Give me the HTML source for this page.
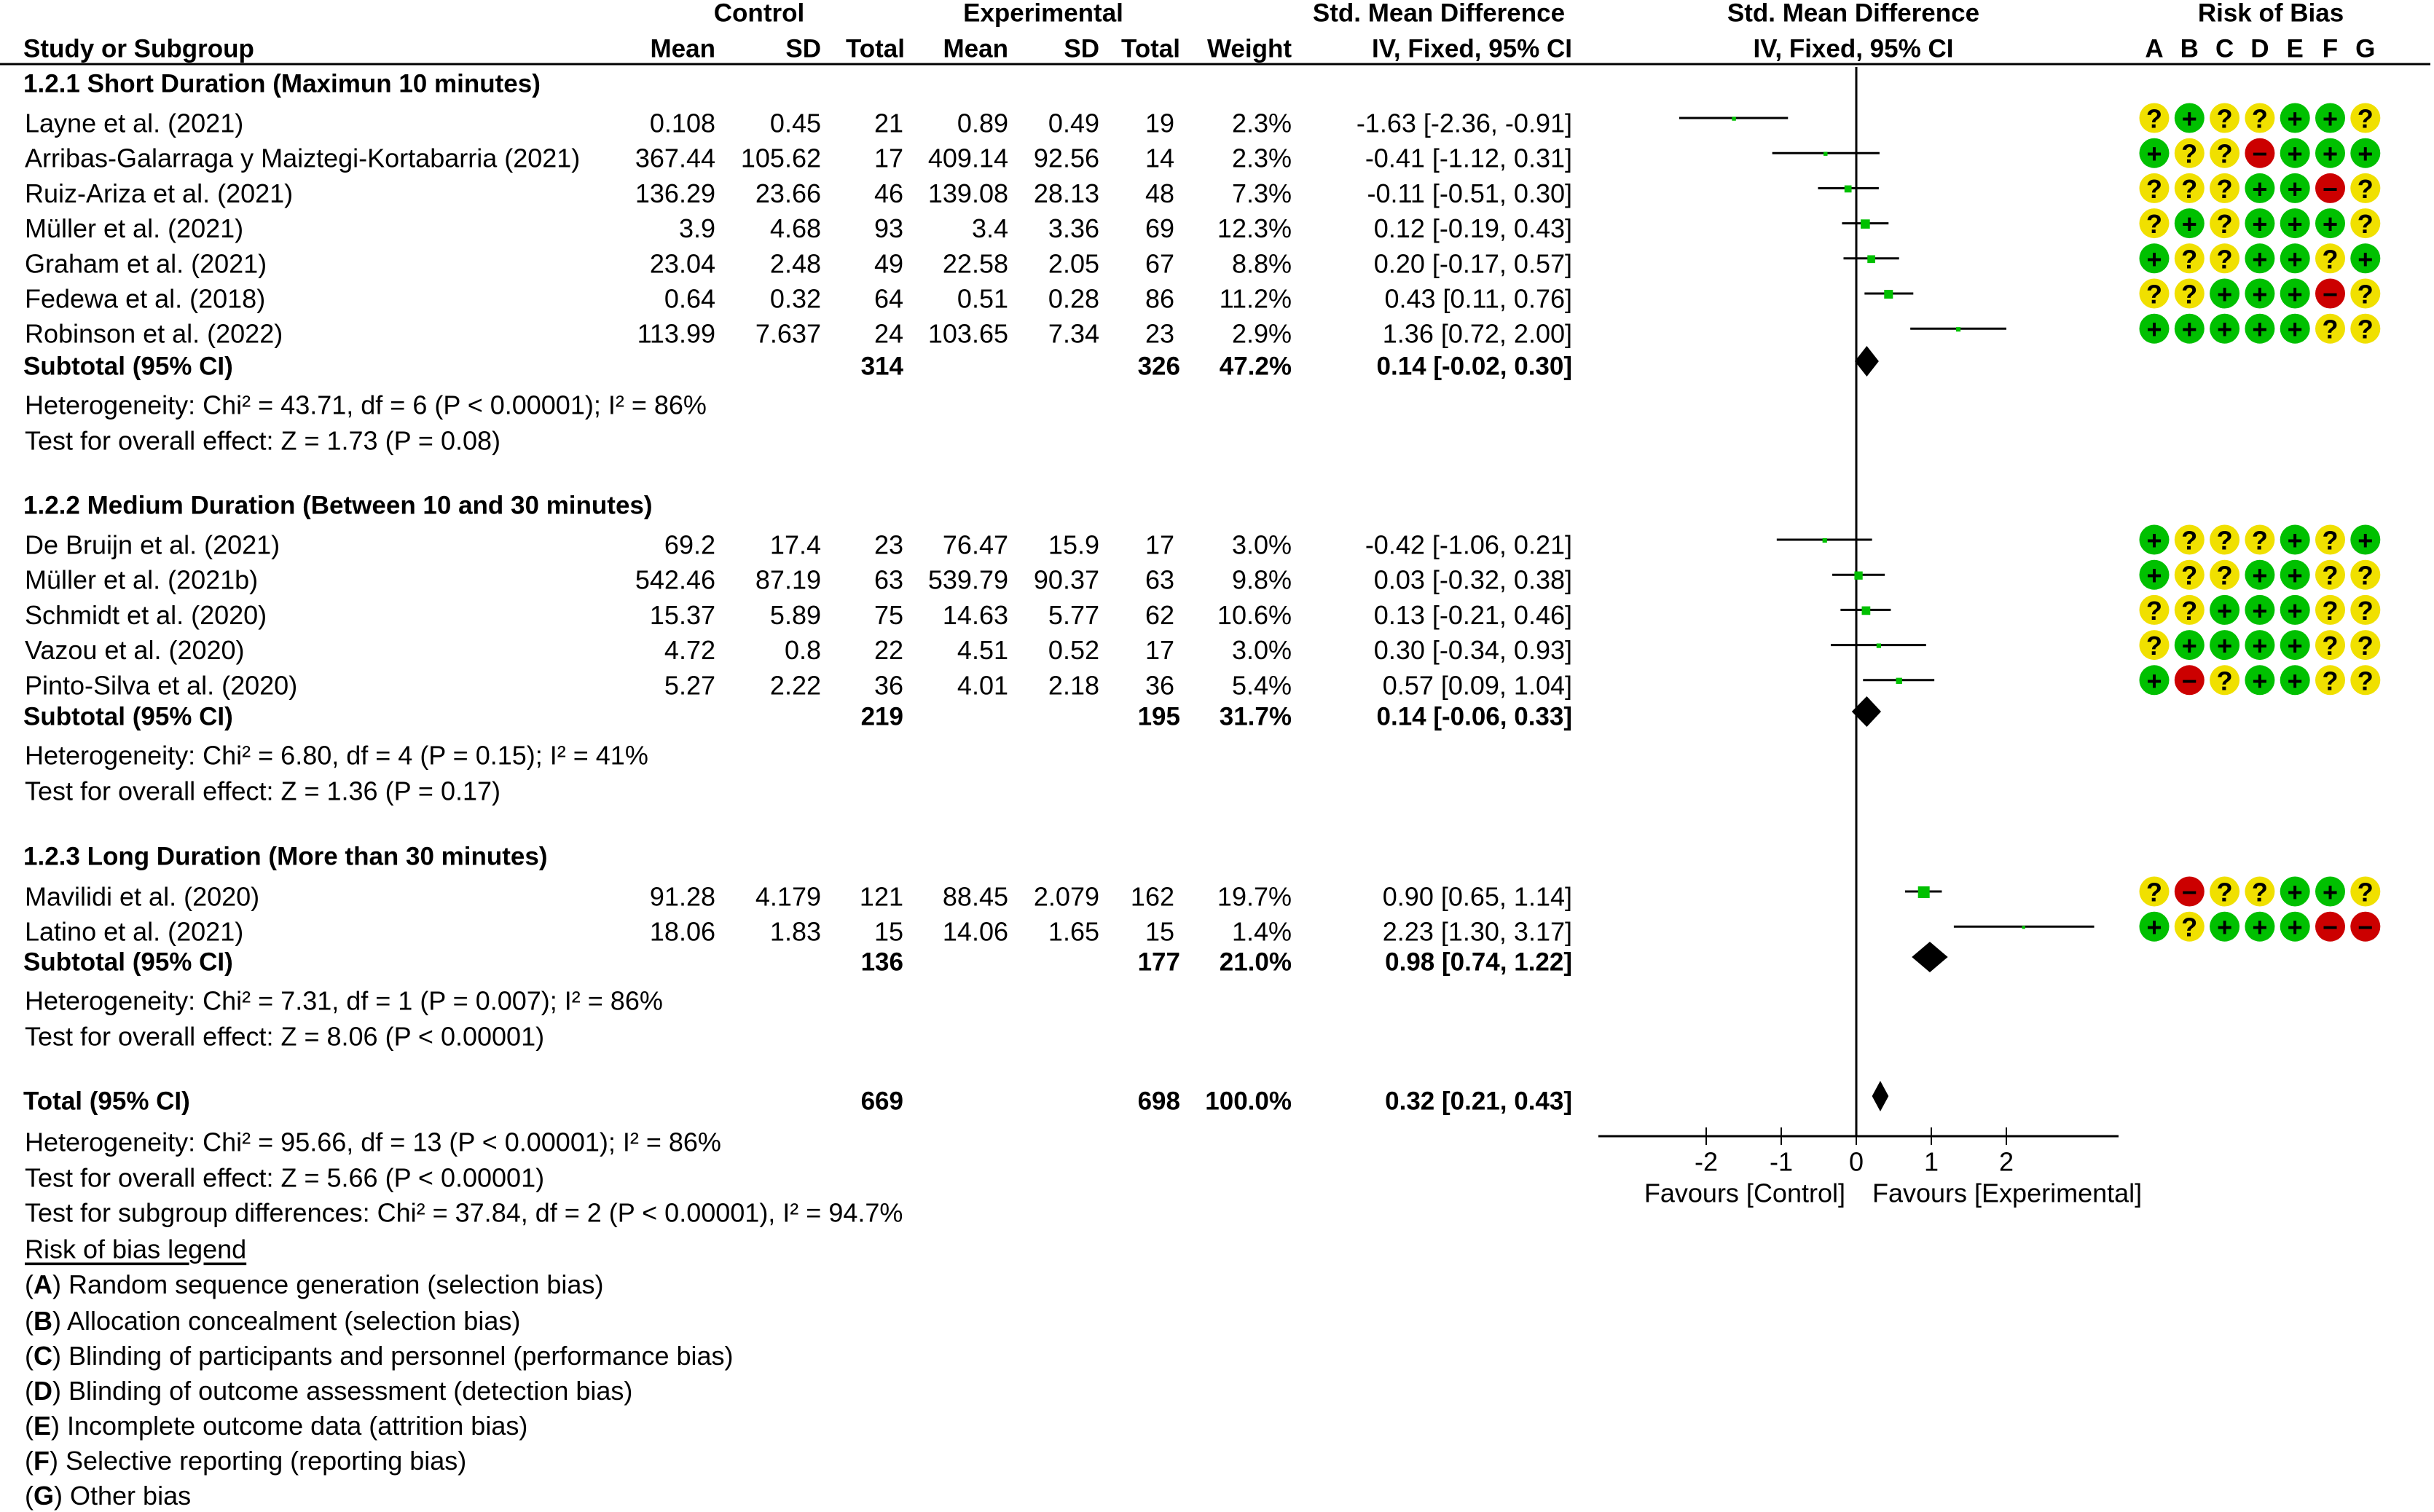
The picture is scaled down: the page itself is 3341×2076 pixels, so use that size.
<!DOCTYPE html>
<html><head><meta charset="utf-8">
<style>
html,body{margin:0;padding:0;background:#fff;}
svg{display:block;font-family:"Liberation Sans",Arial,sans-serif;}
text{font-size:36px;fill:#000;}
.b{font-weight:bold;font-size:35px;}
</style></head>
<body>
<svg id="chart" width="3341" height="2076" viewBox="0 0 3341 2076" xmlns="http://www.w3.org/2000/svg"></svg>
<script>
const studyNames = ["Layne et al. (2021)","Arribas-Galarraga y Maiztegi-Kortabarria (2021)","Ruiz-Ariza et al. (2021)","Müller et al. (2021)","Graham et al. (2021)","Fedewa et al. (2018)","Robinson et al. (2022)","De Bruijn et al. (2021)","Müller et al. (2021b)","Schmidt et al. (2020)","Vazou et al. (2020)","Pinto-Silva et al. (2020)","Mavilidi et al. (2020)","Latino et al. (2021)"];
const studyGroup = [0,0,0,0,0,0,0,1,1,1,1,1,2,2];
const ctrlMean = ["0.108","367.44","136.29","3.9","23.04","0.64","113.99","69.2","542.46","15.37","4.72","5.27","91.28","18.06"];
const ctrlSD = ["0.45","105.62","23.66","4.68","2.48","0.32","7.637","17.4","87.19","5.89","0.8","2.22","4.179","1.83"];
const ctrlN = [21,17,46,93,49,64,24,23,63,75,22,36,121,15];
const expMean = ["0.89","409.14","139.08","3.4","22.58","0.51","103.65","76.47","539.79","14.63","4.51","4.01","88.45","14.06"];
const expSD = ["0.49","92.56","28.13","3.36","2.05","0.28","7.34","15.9","90.37","5.77","0.52","2.18","2.079","1.65"];
const expN = [19,14,48,69,67,86,23,17,63,62,17,36,162,15];
const weights = [2.3,2.3,7.3,12.3,8.8,11.2,2.9,3.0,9.8,10.6,3.0,5.4,19.7,1.4];
const smd = [-1.63,-0.41,-0.11,0.12,0.20,0.43,1.36,-0.42,0.03,0.13,0.30,0.57,0.90,2.23];
const ciLo = [-2.36,-1.12,-0.51,-0.19,-0.17,0.11,0.72,-1.06,-0.32,-0.21,-0.34,0.09,0.65,1.30];
const ciHi = [-0.91,0.31,0.30,0.43,0.57,0.76,2.00,0.21,0.38,0.46,0.93,1.04,1.14,3.17];
const rob = ["?+??++?","+??-+++","???++-?","?+?+++?","+??++?+","??+++-?","+++++??","+???+?+","+??++??","??+++??","?++++??","+-?++??","?-??++?","+?+++--"];
const groupTitles = ["1.2.1 Short Duration (Maximun 10 minutes)","1.2.2 Medium Duration (Between 10 and 30 minutes)","1.2.3 Long Duration (More than 30 minutes)"];
const subCtrlN = [314,219,136];
const subExpN = [326,195,177];
const subWeight = ["47.2%","31.7%","21.0%"];
const subSmd = [0.14,0.14,0.98];
const subLo = [-0.02,-0.06,0.74];
const subHi = [0.30,0.33,1.22];
const subHet = ["Heterogeneity: Chi² = 43.71, df = 6 (P < 0.00001); I² = 86%","Heterogeneity: Chi² = 6.80, df = 4 (P = 0.15); I² = 41%","Heterogeneity: Chi² = 7.31, df = 1 (P = 0.007); I² = 86%"];
const subTest = ["Test for overall effect: Z = 1.73 (P = 0.08)","Test for overall effect: Z = 1.36 (P = 0.17)","Test for overall effect: Z = 8.06 (P < 0.00001)"];
const totalSmd = 0.32, totalLo = 0.21, totalHi = 0.43;
const totalCtrlN = 669, totalExpN = 698;
const axisTicks = [-2,-1,0,1,2];
const legendLetters = ["A","B","C","D","E","F","G"];
const legendTexts = [" Random sequence generation (selection bias)"," Allocation concealment (selection bias)"," Blinding of participants and personnel (performance bias)"," Blinding of outcome assessment (detection bias)"," Incomplete outcome data (attrition bias)"," Selective reporting (reporting bias)"," Other bias"];

const svg = document.getElementById('chart');
const NS = "http://www.w3.org/2000/svg";
const X0 = 2548, UNIT = 103;
const TOFF = 7;
function xs(v){ return X0 + v*UNIT; }
function mk(tag, attrs, parent){ const e=document.createElementNS(NS,tag); for(const k in attrs) e.setAttribute(k,attrs[k]); (parent||svg).appendChild(e); return e; }
function txt(x,y,s,anchor,bold,name){
  const t = mk('text',{x:x,y:y+TOFF,'dominant-baseline':'central','text-anchor':anchor||'start'});
  if(bold) t.setAttribute('class','b');
  t.textContent = s;
  
  
  return t;
}
function fmt(v){ return v.toFixed(2); }

// headers
txt(1042,11,"Control","middle",true,"control-header");
txt(1432,11,"Experimental","middle",true,"experimental-header");
txt(1975,11,"Std. Mean Difference","middle",true,"smd-header");
txt(2544,11,"Std. Mean Difference","middle",true,"plot-header");
txt(3117,11,"Risk of Bias","middle",true,"risk-of-bias-header");
txt(32,60,"Study or Subgroup","start",true,"study-column-header");
txt(982,60,"Mean","end",true,"control-mean-header");
txt(1127,60,"SD","end",true,"control-sd-header");
txt(1242,60,"Total","end",true,"control-total-header");
txt(1384,60,"Mean","end",true,"exp-mean-header");
txt(1509,60,"SD","end",true,"exp-sd-header");
txt(1620,60,"Total","end",true,"exp-total-header");
txt(1773,60,"Weight","end",true,"weight-header");
txt(2158,60,"IV, Fixed, 95% CI","end",true,"ci-header");
txt(2544,60,"IV, Fixed, 95% CI","middle",true,"plot-subheader");
const robX0 = 2957, robStep = 48.3;
legendLetters.forEach((L,i)=>{ txt(robX0+i*robStep,60,L,"middle",true,"rob-column-"+L); });
const hl = mk('line',{x1:0,y1:88,x2:3336,y2:88,stroke:'#000','stroke-width':3});



const zl = mk('line',{x1:X0,y1:92,x2:X0,y2:1560,stroke:'#000','stroke-width':3});



const groupStart = [162,741,1224];
const sectionY = [108,687,1169];
const subY = [496,977,1314];
const STEP = 48.2;
const counts=[0,0,0];
const colors = {"?":"#f0e000","+":"#00c000","-":"#cc0000"};

groupTitles.forEach((g,i)=>{ txt(32,sectionY[i],g,"start",true,"section-title-"+(i+1)); });

studyNames.forEach((n,i)=>{
  const g = studyGroup[i];
  const y = groupStart[g] + STEP*counts[g]; counts[g]++;
  txt(34,y,n,"start",false,"study-name");
  txt(982,y,ctrlMean[i],"end",false,"control-mean");
  txt(1127,y,ctrlSD[i],"end",false,"control-sd");
  txt(1240,y,String(ctrlN[i]),"end",false,"control-total");
  txt(1384,y,expMean[i],"end",false,"exp-mean");
  txt(1509,y,expSD[i],"end",false,"exp-sd");
  txt(1612,y,String(expN[i]),"end",false,"exp-total");
  txt(1773,y,weights[i].toFixed(1)+"%","end",false,"weight");
  txt(2158,y,fmt(smd[i])+" ["+fmt(ciLo[i])+", "+fmt(ciHi[i])+"]","end",false,"smd-ci");
  const ci = mk('line',{x1:xs(ciLo[i]),y1:y,x2:xs(ciHi[i]),y2:y,stroke:'#000','stroke-width':3});
  
  
  const s = 3.6*Math.sqrt(weights[i]);
  const sq = mk('rect',{x:xs(smd[i])-s/2,y:y-s/2+1,width:s,height:s,fill:'#00c000'});
  
  
  rob[i].split('').forEach((c,j)=>{
    const cx = robX0 + j*robStep;
    const circ = mk('circle',{cx:cx,cy:y,r:20.5,fill:colors[c]});
    
    
    const t = mk('text',{x:cx,y:y+1,'dominant-baseline':'central','text-anchor':'middle','font-weight':'bold','font-size':'30'});
    t.textContent = c==='-' ? '−' : c;
    
    
  });
});

function diamond(v,lo,hi,y,name){
  const d = mk('polygon',{points:`${xs(lo)},${y} ${xs(v)},${y-21} ${xs(hi)},${y} ${xs(v)},${y+21}`,fill:'#000'});
  
  
}
subY.forEach((y,i)=>{
  txt(32,y,"Subtotal (95% CI)","start",true,"subtotal-label");
  txt(1240,y,String(subCtrlN[i]),"end",true,"subtotal-control-n");
  txt(1620,y,String(subExpN[i]),"end",true,"subtotal-exp-n");
  txt(1773,y,subWeight[i],"end",true,"subtotal-weight");
  txt(2158,y,fmt(subSmd[i])+" ["+fmt(subLo[i])+", "+fmt(subHi[i])+"]","end",true,"subtotal-ci");
  diamond(subSmd[i],subLo[i],subHi[i],y,"subtotal-diamond");
  txt(34,y+53,subHet[i],"start",false,"subgroup-heterogeneity");
  txt(34,y+102,subTest[i],"start",false,"subgroup-overall-effect");
});

const ty = 1505;
txt(32,ty,"Total (95% CI)","start",true,"total-label");
txt(1240,ty,String(totalCtrlN),"end",true,"total-control-n");
txt(1620,ty,String(totalExpN),"end",true,"total-exp-n");
txt(1773,ty,"100.0%","end",true,"total-weight");
txt(2158,ty,fmt(totalSmd)+" ["+fmt(totalLo)+", "+fmt(totalHi)+"]","end",true,"total-ci");
diamond(totalSmd,totalLo,totalHi,ty,"total-diamond");
txt(34,1561,"Heterogeneity: Chi² = 95.66, df = 13 (P < 0.00001); I² = 86%","start",false,"total-heterogeneity");
txt(34,1610,"Test for overall effect: Z = 5.66 (P < 0.00001)","start",false,"total-overall-effect");
txt(34,1658,"Test for subgroup differences: Chi² = 37.84, df = 2 (P < 0.00001), I² = 94.7%","start",false,"subgroup-differences");
const lt = txt(34,1708,"Risk of bias legend","start",false,"rob-legend-title");
lt.setAttribute('text-decoration','underline');
const legYs=[1756,1806,1854,1902,1950,1998,2046];
legendLetters.forEach((L,i)=>{
  const t = mk('text',{x:34,y:legYs[i]+TOFF,'dominant-baseline':'central'});
  
  
  const a = document.createElementNS(NS,'tspan'); a.textContent='('; t.appendChild(a);
  const b = document.createElementNS(NS,'tspan'); b.setAttribute('font-weight','bold'); b.textContent=L; t.appendChild(b);
  const c = document.createElementNS(NS,'tspan'); c.textContent=')'+legendTexts[i]; t.appendChild(c);
});

// axis
const ax = mk('line',{x1:2194,y1:1560,x2:2908,y2:1560,stroke:'#000','stroke-width':3});


axisTicks.forEach(v=>{
  const tk = mk('line',{x1:xs(v),y1:1548,x2:xs(v),y2:1572,stroke:'#000','stroke-width':2});
  
  
  txt(xs(v),1595-TOFF,String(v),"middle",false,"x-tick-label");
});
txt(2533,1638-TOFF,"Favours [Control]","end",false,"favours-control-label");
txt(2570,1638-TOFF,"Favours [Experimental]","start",false,"favours-experimental-label");
</script>
</body></html>
